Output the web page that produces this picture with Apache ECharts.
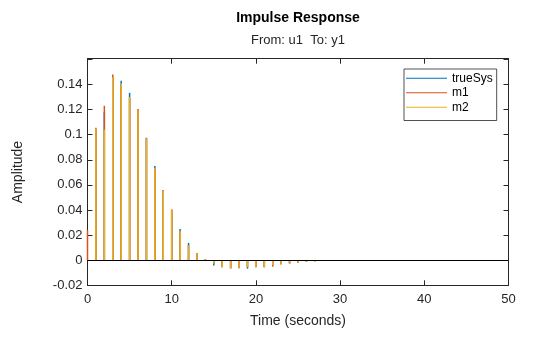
<!DOCTYPE html>
<html>
<head>
<meta charset="utf-8">
<script src="https://cdn.jsdelivr.net/npm/echarts@6/dist/echarts.min.js"></script>
<style>
  html, body { margin: 0; padding: 0; background: #fff; }
  #chart { width: 560px; height: 337px; }
</style>
</head>
<body>
<div id="chart"></div>
<script>
// Sample times (seconds) of the discrete impulse response
const times = [];
for (let k = 0; k <= 50; k++) times.push(k);

// Impulse response amplitudes per system, one value per sample time
const trueSys = [
  0, 0.104, 0.118, 0.146, 0.143, 0.1333, 0.119, 0.097, 0.0751, 0.0555,
  0.040, 0.0249, 0.0138, 0.0055, 0.0008, -0.0043, -0.0056, -0.0064, -0.0064, -0.0067,
  -0.0056, -0.0055, -0.0040, -0.0033, -0.0026, -0.0019, -0.0013, -0.0009, -0.0005, -0.0003,
  -0.0001, 0, 0, 0, 0, 0, 0, 0, 0, 0,
  0, 0, 0, 0, 0, 0, 0, 0, 0, 0, 0
];
const m1 = [
  0.024, 0.1055, 0.123, 0.148, 0.140, 0.129, 0.1205, 0.0975, 0.073, 0.0558,
  0.0404, 0.023, 0.0115, 0.0056, 0.001, -0.0028, -0.0055, -0.0065, -0.0063, -0.0054,
  -0.0055, -0.0057, -0.0051, -0.0033, -0.0025, -0.0019, -0.0013, -0.0009, -0.0005, -0.0003,
  -0.0001, 0, 0, 0, 0, 0, 0, 0, 0, 0,
  0, 0, 0, 0, 0, 0, 0, 0, 0, 0, 0
];
const m2 = [
  0, 0.1045, 0.104, 0.1458, 0.1407, 0.1299, 0.1195, 0.0967, 0.0735, 0.0552,
  0.0406, 0.0233, 0.0116, 0.0056, 0.001, -0.0026, -0.0056, -0.0066, -0.0064, -0.0055,
  -0.0056, -0.0055, -0.0038, -0.0034, -0.0026, -0.0019, -0.0014, -0.001, -0.0005, -0.0003,
  -0.0001, 0, 0, 0, 0, 0, 0, 0, 0, 0,
  0, 0, 0, 0, 0, 0, 0, 0, 0, 0, 0
];

// Labelled amplitude ticks
const yTickLabels = [-0.02, 0, 0.02, 0.04, 0.06, 0.08, 0.1, 0.12, 0.14];

const seriesNames = ['trueSys', 'm1', 'm2'];
const seriesColors = ['#0072BD', '#D95319', '#EDB120'];
const seriesValues = [trueSys, m1, m2];

const FONT = '"Liberation Sans", Arial, Helvetica, sans-serif';
const INK = '#262626';

const chart = echarts.init(document.getElementById('chart'), null, { renderer: 'canvas' });

const tickFmt = v => {
  const r = parseFloat((Math.round(v * 1000) / 1000).toFixed(2));
  return yTickLabels.some(t => Math.abs(t - r) < 1e-9) && Math.abs(v - r) < 1e-6 ? String(r) : '';
};

const boxAxisX = (extra) => Object.assign({
  type: 'value', min: 0, max: 50, interval: 10,
  axisLine: { show: true, onZero: false, lineStyle: { color: INK, width: 1 } },
  axisTick: { show: true, inside: true, length: 5, lineStyle: { color: INK, width: 1 } },
  splitLine: { show: false }
}, extra);

const boxAxisY = (extra) => Object.assign({
  type: 'value', min: -0.02, max: 0.1605, interval: 0.02,
  axisLine: { show: true, onZero: false, lineStyle: { color: INK, width: 1 } },
  axisTick: { show: true, inside: true, length: 5, lineStyle: { color: INK, width: 1 } },
  splitLine: { show: false }
}, extra);

const series = seriesNames.map((name, i) => ({
  name: name,
  type: 'bar',
  xAxisIndex: 0,
  yAxisIndex: 0,
  barWidth: 1.5,
  barGap: '-100%',
  itemStyle: { color: seriesColors[i] },
  emphasis: { disabled: true },
  animation: false,
  data: times.map((t, k) => [t, seriesValues[i][k]]),
  z: 2 + i
}));

// Black reference line at zero amplitude
series[0].markLine = {
  silent: true,
  symbol: ['none', 'none'],
  label: { show: false },
  lineStyle: { color: '#000', width: 1, type: 'solid' },
  data: [{ yAxis: 0 }],
  animation: false
};

chart.setOption({
  backgroundColor: '#fff',
  animation: false,
  textStyle: { fontFamily: FONT },
  grid: { left: 87.5, right: 51.5, top: 58.7, bottom: 51.7, containLabel: false },
  graphic: [
    {
      type: 'text',
      style: { x: 298, y: 18, text: 'Impulse Response', textAlign: 'center', textVerticalAlign: 'middle',
               font: 'bold 14px ' + FONT, fill: '#000' }
    },
    {
      type: 'text',
      style: { x: 298, y: 40, text: 'From: u1  To: y1', textAlign: 'center', textVerticalAlign: 'middle',
               font: '13px ' + FONT, fill: INK }
    }
  ],
  legend: {
    orient: 'vertical',
    left: 404, top: 69,
    padding: [2, 4, 6, 2],
    itemGap: 0,
    itemWidth: 41,
    itemHeight: 1.2,
    icon: 'rect',
    backgroundColor: '#fff',
    borderColor: INK,
    borderWidth: 0.8,
    borderRadius: 0,
    selectedMode: false,
    textStyle: { fontSize: 12, color: '#000', lineHeight: 14.5, fontFamily: FONT },
    data: seriesNames
  },
  xAxis: [
    boxAxisX({
      position: 'bottom',
      name: 'Time (seconds)', nameLocation: 'middle', nameGap: 29,
      nameTextStyle: { fontSize: 14, color: INK, fontFamily: FONT },
      axisLabel: { fontSize: 13, color: INK, margin: 8, fontFamily: FONT }
    }),
    boxAxisX({ position: 'top', axisLabel: { show: false } })
  ],
  yAxis: [
    boxAxisY({
      position: 'left',
      name: 'Amplitude', nameLocation: 'middle', nameGap: 62, nameRotate: 90,
      nameTextStyle: { fontSize: 14, color: INK, fontFamily: FONT },
      axisLabel: { fontSize: 13, color: INK, margin: 5, fontFamily: FONT,
                   showMaxLabel: false, formatter: tickFmt }
    }),
    boxAxisY({ position: 'right', axisLabel: { show: false } })
  ],
  series: series
});
</script>
</body>
</html>
